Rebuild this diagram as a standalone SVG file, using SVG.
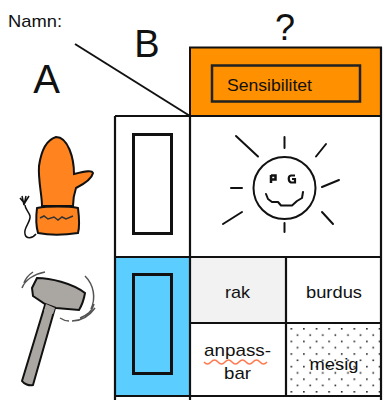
<svg xmlns="http://www.w3.org/2000/svg" width="384" height="400" viewBox="0 0 384 400">
<style>
text{font-family:"Liberation Sans",Arial,sans-serif;fill:#111}
.c{text-anchor:middle}
.t{font-size:17px}
.g{fill:none;stroke:#111;stroke-width:2.2px}
.b{fill:none;stroke:#111;stroke-width:3px}
.s{fill:none;stroke:#111;stroke-width:2px;stroke-linecap:round;stroke-linejoin:round}
</style>
<defs>
<pattern id="dots" width="12.6" height="12.6" patternUnits="userSpaceOnUse" patternTransform="translate(290.500 328)">
<rect x="0" y="0" width="1.600" height="1.600" fill="#222"/><rect x="6.300" y="6.300" width="1.600" height="1.600" fill="#222"/>
</pattern>
</defs>
<rect width="384" height="400" fill="#fff"/>
<g id="labels">
<text x="8" y="27" font-size="17" textLength="54" lengthAdjust="spacingAndGlyphs">Namn:</text>
<text x="147" y="57" class="c" font-size="38">B</text>
<text x="46.500" y="93" class="c" font-size="40">A</text>
<text x="285" y="40" class="c" font-size="36">?</text>
</g>
<g id="connectors"><path d="M75 44L190 116" fill="none" stroke="#111" stroke-width="2"/></g>
<g id="header"><rect x="190" y="47.500" width="191" height="68.500" fill="#ff9000" stroke="#111" stroke-width="2"/>
<rect x="212" y="65.500" width="148" height="36" fill="none" stroke="#222" stroke-width="2.500"/>
<text x="227" y="90.500" font-size="17" textLength="85" lengthAdjust="spacingAndGlyphs">Sensibilitet</text></g>
<g id="table">
<rect x="115" y="116" width="75" height="141" fill="#fff"/>
<rect x="115" y="257" width="75" height="139" fill="#5ccdff"/>
<rect x="191" y="258" width="95" height="65" fill="#f2f2f2"/>
<rect x="287" y="324" width="93" height="71" fill="url(#dots)"/>
<path class="g" d="M115 116H381M115 257H381M115 396H381M115 116V400M190 116V400M381 47V400M286 257V396M190 323H381"/>
<rect class="b" x="133.500" y="134.500" width="38" height="99"/>
<rect class="b" x="133.500" y="274.500" width="38" height="99"/>
</g>
<g id="cells">
<text x="237.500" y="298" class="c t" textLength="25" lengthAdjust="spacingAndGlyphs">rak</text>
<text x="334" y="298" class="c t" textLength="56" lengthAdjust="spacingAndGlyphs">burdus</text>
<text x="237.500" y="356" class="c t" textLength="67" lengthAdjust="spacingAndGlyphs">anpass-</text>
<path d="M204 362q3.500 4 7 0t7 0t7 0t7 0t7 0t7 0t7 0t7 0t7 0" fill="none" stroke="#ff7a50" stroke-width="1.500"/>
<text x="237.500" y="379" class="c t" textLength="27" lengthAdjust="spacingAndGlyphs">bar</text>
<text x="334" y="370" class="c t" textLength="49" lengthAdjust="spacingAndGlyphs">mesig</text>
</g>
<g id="sun">
<circle class="s" cx="284.500" cy="188" r="31"/>
<path class="s" d="M236 136L258 156.500M284.500 137V148M326 144L316 156.500M231 188H242M322 187L339 180M223 224L242 212M322 212L333 224M284.500 223V232M266 194L268 199L272 202H278L281 205.500H292L297 201L302 198L303 192"/>
<path d="M271 175V183M271 175.500H275.500V179.500H271" fill="none" stroke="#111" stroke-width="2.500"/>
<path d="M295 175.500H291C288 176 288 181 291 182.500H295V179H292" fill="none" stroke="#111" stroke-width="2.200"/>
</g>
<g id="mitten">
<path d="M56 137C46 140 41 152 39 166C38 180 42 195 42 206L73 206C73 200 74 194 76 188C84 184 92 178 93 173C92 170 86 171 74 174C74 158 68 137 56 137Z" fill="#ff8420" stroke="#111" stroke-width="2"/>
<path d="M37 208C48 206 68 206 78 208C79 216 80 226 78 233C65 235 48 235 38 233C36 226 36 216 37 208Z" fill="#ff8420" stroke="#111" stroke-width="2"/>
<path d="M40 218L44 216L48 219L54 217L58 220L62 217L66 219L73 216" fill="none" stroke="#333" stroke-width="1.500"/>
<path d="M36 234C32 239 26 239 25 234C23 228 31 222 30 216C29 212 25 209 25 205M22 196L24 205L26 196M24 204L29 196M25 204L20 198" fill="none" stroke="#111" stroke-width="1.500"/>
</g>
<g id="hammer">
<path d="M45 305L55 308L33 385C29 386 24 384 22 381Z" fill="#aaa7a3" stroke="#111" stroke-width="2"/>
<path d="M37 278C50 278 72 283 85 293C84 299 82 305 79 310L56 308L45 304L33 296L32 288Z" fill="#aaa7a3" stroke="#111" stroke-width="2"/>
<path d="M46 304L55 308L53 314L44 311Z" fill="#aaa7a3"/>
<path d="M22 288C25 280 34 274 45 272M24 283C26 277 30 274 33 272M85 276C94 285 96 298 91 309M60 318C63 320 66 321 69 321M72 321C82 321 90 315 95 308M80 318C87 315 92 312 94 304" fill="none" stroke="#555" stroke-width="1.500"/>
</g>
</svg>
